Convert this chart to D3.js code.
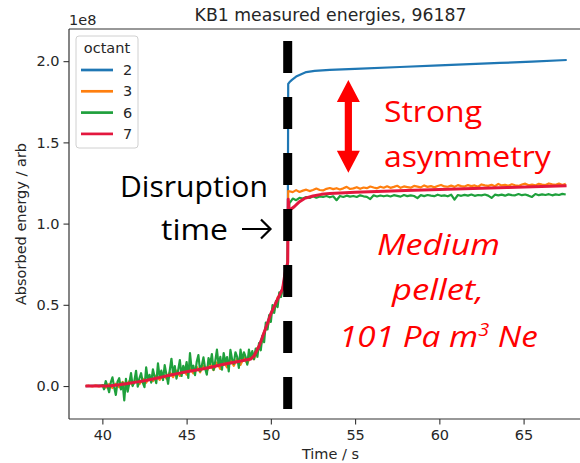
<!DOCTYPE html>
<html><head><meta charset="utf-8">
<script src="https://cdn.jsdelivr.net/npm/d3@7/dist/d3.min.js"></script>
<style>body{margin:0;background:#fff}text{font-family:"DejaVu Sans",sans-serif}</style>
</head><body>
<svg id="c" width="580" height="463"></svg>
<script>
// ---------- data ----------
const chartTitle = "KB1 measured energies, 96187";
const xLabel = "Time / s";
const yLabel = "Absorbed energy / arb";
const xTicks = [40, 45, 50, 55, 60, 65];
const yTicks = [0.0, 0.5, 1.0, 1.5, 2.0];
const octants = ["2", "3", "6", "7"];
const octantColors = ["#1f77b4", "#ff7f0e", "#1fa03c", "#e3173e"];
const disruptionTime = 51.0;

// octant 2 (blue), [time s, energy 1e8]
const oct2 = [[39.0,0.000],[41.0,0.008],[43.0,0.043],[45.0,0.088],[47.0,0.129],[48.8,0.166],[49.3,0.245],[49.6,0.330],[50.0,0.445],[50.4,0.535],[50.7,0.600],[50.85,0.700],[51.0,0.760],
  [51.03,1.860],[51.1,1.870],[51.25,1.885],[51.5,1.905],[51.8,1.920],[52.1,1.933],[52.6,1.940],[53.5,1.946],[55.0,1.952],[57.66,1.964],[60.0,1.974],[63.6,1.989],[65.5,1.997],[67.56,2.007]];

// octant 7 (red)
const oct7 = [[39.0,0.000],[39.5,0.000],[40.0,0.000],[40.5,0.002],[41.0,0.008],[41.5,0.015],[42.0,0.024],[42.5,0.033],[43.0,0.043],[43.5,0.055],[44.0,0.066],[44.5,0.078],[45.0,0.088],[45.5,0.097],[46.0,0.106],[46.5,0.117],[47.0,0.129],[47.5,0.140],[48.0,0.150],[48.5,0.160],[48.8,0.166],[49.0,0.185],[49.3,0.245],[49.6,0.330],[50.0,0.445],[50.4,0.535],[50.7,0.600],[50.85,0.700],[51.0,0.760],
  [51.03,1.150],[51.08,1.090],[51.15,1.085],[51.4,1.105],[51.7,1.135],[52.0,1.155],[52.5,1.170],[53.0,1.180],[53.5,1.186],[55.0,1.193],[58.0,1.204],[61.0,1.213],[64.0,1.222],[67.55,1.233]];

// octant 3 (orange): before disruption sampled every 0.2 s from 39.0
const oct3PreStart = 39.0, oct3PreStep = 0.2;
const oct3Pre = [0.000,0.002,-0.003,0.004,-0.002,0.005,-0.010,0.012,-0.012,0.015,-0.008,0.025,-0.005,0.030,0.005,0.040,0.012,0.045,0.020,0.055,0.030,0.065,0.038,0.075,0.045,0.085,0.055,0.095,0.062,0.105,0.070,0.110,0.078,0.118,0.085,0.125,0.090,0.135,0.098,0.145,0.105,0.150,0.115,0.160,0.125,0.168,0.130,0.175,0.138,0.185,0.165,0.235,0.250,0.335,0.360,0.445,0.465,0.545,0.560,0.650,0.750];
const oct3Jump = [51.03, 1.200];
const oct3PostStart = 51.1, oct3PostStep = 0.2;
const oct3Post = [1.199,1.194,1.206,1.195,1.203,1.209,1.200,1.207,1.216,1.207,
  1.204,1.214,1.219,1.212,1.218,1.210,1.217,1.226,1.213,1.217,
  1.224,1.214,1.222,1.218,1.228,1.222,1.217,1.227,1.221,1.230,
  1.220,1.226,1.233,1.220,1.229,1.225,1.221,1.232,1.228,1.223,
  1.235,1.226,1.231,1.223,1.231,1.238,1.229,1.227,1.234,1.226,
  1.237,1.231,1.228,1.237,1.231,1.235,1.227,1.241,1.235,1.232,
  1.239,1.230,1.244,1.235,1.239,1.233,1.242,1.236,1.232,1.241,
  1.246,1.236,1.240,1.235,1.245,1.240,1.237,1.247,1.242,1.239,
  1.246,1.238,1.245];

// octant 6 (green): before disruption sampled every 0.1 s from 40.0
const oct6PreStart = 40.0, oct6PreStep = 0.1;
const oct6Pre = [0.010,-0.020,0.031,0.001,-0.038,0.022,0.053,-0.006,-0.055,0.026,
  0.048,-0.021,0.021,-0.088,0.044,-0.035,0.017,0.079,0.000,0.032,
  0.094,-0.004,0.048,0.079,0.021,-0.007,0.115,0.037,0.069,0.021,
  0.103,0.055,0.018,0.140,0.053,0.095,0.037,0.129,0.072,0.014,
  0.096,0.168,0.071,0.123,0.046,0.098,0.160,0.062,0.124,0.086,
  0.148,0.050,0.202,0.103,0.125,0.067,0.149,0.191,0.092,0.124,
  0.176,0.108,0.070,0.172,0.135,0.197,0.099,0.152,0.224,0.127,
  0.179,0.101,0.203,0.146,0.178,0.090,0.222,0.164,0.136,0.208,
  0.180,0.112,0.224,0.156,0.208,0.180,0.132,0.224,0.176,0.215,
  0.165,0.230,0.180,0.265,0.220,0.310,0.270,0.390,0.348,0.436,
  0.395,0.498,0.450,0.523,0.485,0.577,0.548,0.600,0.603,0.647,0.760];
const oct6Jump = [51.03, 1.050];
const oct6PostStart = 51.1, oct6PostStep = 0.2;
const oct6Post = [1.125,1.154,1.144,1.159,1.154,1.163,1.158,1.168,1.159,1.167,
  1.164,1.170,1.162,1.168,1.144,1.170,1.164,1.172,1.166,1.170,
  1.164,1.174,1.168,1.165,1.151,1.174,1.167,1.173,1.168,1.173,
  1.167,1.175,1.171,1.166,1.176,1.169,1.174,1.170,1.157,1.175,
  1.169,1.176,1.172,1.169,1.178,1.171,1.174,1.168,1.178,1.148,
  1.176,1.171,1.177,1.172,1.179,1.171,1.176,1.174,1.179,1.172,
  1.158,1.178,1.174,1.178,1.172,1.180,1.175,1.174,1.182,1.175,
  1.179,1.172,1.164,1.182,1.175,1.180,1.176,1.181,1.174,1.180,
  1.176,1.183,1.179];

// ---------- build series ----------
const sampled = (start, step, vals) => vals.map((v, i) => [start + i * step, v]);
const series = [
  oct2,
  sampled(oct3PreStart, oct3PreStep, oct3Pre).concat([oct3Jump], sampled(oct3PostStart, oct3PostStep, oct3Post)),
  sampled(oct6PreStart, oct6PreStep, oct6Pre).concat([oct6Jump], sampled(oct6PostStart, oct6PostStep, oct6Post)),
  oct7
];
const widths = [2.2, 2.2, 2.2, 3.0];

// ---------- layout ----------
const svg = d3.select("#c");
const L = 69, R = 592, T = 29, B = 419;
const x = d3.scaleLinear().domain([38.02, 69.06]).range([L, R]);
const y = d3.scaleLinear().domain([-0.203, 2.198]).range([B, T]);
const axisColor = "#333", textColor = "#262626";

svg.append("clipPath").attr("id", "clipA").append("rect")
  .attr("x", L).attr("y", T).attr("width", R - L).attr("height", B - T);

const line = d3.line().x(d => x(d[0])).y(d => y(d[1]));
const plot = svg.append("g").attr("clip-path", "url(#clipA)");
series.forEach((s, i) => {
  plot.append("path").datum(s).attr("d", line).attr("fill", "none")
    .attr("stroke", octantColors[i]).attr("stroke-width", widths[i])
    .attr("stroke-linejoin", "round").attr("stroke-linecap", "butt");
});

// axes
const xAxis = d3.axisBottom(x).tickValues(xTicks).tickSize(5.5).tickPadding(5).tickFormat(d3.format("d"));
const yAxis = d3.axisLeft(y).tickValues(yTicks).tickSize(5.5).tickPadding(4).tickFormat(d3.format(".1f"));
const gx = svg.append("g").attr("transform", `translate(0,${B})`).call(xAxis);
const gy = svg.append("g").attr("transform", `translate(${L},0)`).call(yAxis);
[gx, gy].forEach(g => {
  g.select(".domain").remove();
  g.selectAll(".tick line").attr("stroke", axisColor).attr("stroke-width", 1.1);
  g.selectAll(".tick text").attr("fill", textColor).style("font-size", "14.5px").style("font-family", "DejaVu Sans");
});
// spines (left, top, bottom; right lies outside the picture)
[[L, T, L, B], [L, T, R, T], [L, B, R, B], [R, T, R, B]].forEach(s =>
  svg.append("line").attr("x1", s[0]).attr("y1", s[1]).attr("x2", s[2]).attr("y2", s[3])
    .attr("stroke", axisColor).attr("stroke-width", 1.2));

// title and labels
svg.append("text").attr("x", (L + R) / 2).attr("y", 21).attr("text-anchor", "middle")
  .attr("fill", textColor).style("font-size", "17.3px").text(chartTitle);
svg.append("text").attr("x", L).attr("y", 25).attr("fill", textColor).style("font-size", "14.5px").text("1e8");
svg.append("text").attr("x", (L + R) / 2).attr("y", 459).attr("text-anchor", "middle")
  .attr("fill", textColor).style("font-size", "14.5px").text(xLabel);
svg.append("text").attr("transform", `translate(26,${(T + B) / 2}) rotate(-90)`).attr("text-anchor", "middle")
  .attr("fill", textColor).style("font-size", "14.5px").text(yLabel);

// legend
const lg = svg.append("g").attr("transform", "translate(76,36)");
lg.append("rect").attr("width", 62).attr("height", 112).attr("rx", 3)
  .attr("fill", "#fff").attr("fill-opacity", 0.8).attr("stroke", "#d0d0d0").attr("stroke-width", 1);
lg.append("text").attr("x", 31).attr("y", 17).attr("text-anchor", "middle").attr("fill", textColor)
  .style("font-size", "14.5px").text("octant");
octants.forEach((o, i) => {
  const yy = 34 + i * 21.3;
  lg.append("line").attr("x1", 5).attr("x2", 37).attr("y1", yy).attr("y2", yy)
    .attr("stroke", octantColors[i]).attr("stroke-width", 2.7);
  lg.append("text").attr("x", 47).attr("y", yy + 5).attr("fill", textColor).style("font-size", "14.5px").text(o);
});

// ---------- annotations ----------
svg.append("line").attr("x1", x(disruptionTime)).attr("x2", x(disruptionTime))
  .attr("y1", 41).attr("y2", 410).attr("stroke", "#000").attr("stroke-width", 9)
  .attr("stroke-dasharray", "32,24");

function fitText(sel, width) {
  const w = sel.node().getBBox().width;
  const tx = +sel.attr("data-x"), ty = +sel.attr("data-y");
  sel.attr("transform", `translate(${tx},${ty}) scale(${width / w},1)`);
}
function annot(str, xx, yy, w, size, color, italic) {
  const t = svg.append("text").attr("data-x", xx).attr("data-y", yy)
    .attr("fill", color).style("font-family", "'Open Sans', sans-serif")
    .style("font-size", size + "px").style("font-style", italic ? "italic" : "normal").text(str);
  fitText(t, w);
  return t;
}
annot("Strong", 384, 122, 98, 30, "#ff0000", false);
annot("asymmetry", 384, 167, 168, 30, "#ff0000", false);
annot("Disruption", 120, 197, 148, 30, "#000", false);
annot("time", 161, 240, 67, 30, "#000", false);
svg.append("path").attr("d", "M242,229 L270,229 M261,219.5 L270.5,229 L261,238.5")
  .attr("fill", "none").attr("stroke", "#000").attr("stroke-width", 2.2);

annot("Medium", 377, 255, 123, 30, "#ff0000", true);
annot("pellet,", 392, 300, 93, 30, "#ff0000", true);
{
  const t = svg.append("text").attr("data-x", 339).attr("data-y", 347).attr("fill", "#ff0000")
    .style("font-family", "'Open Sans', sans-serif").style("font-size", "30px").style("font-style", "italic");
  t.append("tspan").text("101 Pa m");
  t.append("tspan").attr("dy", -11).style("font-size", "18px").text("3");
  t.append("tspan").attr("dy", 11).text(" Ne");
  fitText(t, 199);
}

// red double arrow
{
  const ax = x(54.6), yTop = y(1.884), yBot = y(1.313);
  const hw = 11.5, sw = 3.6, hl = 22;
  const pts = [[ax, yTop], [ax + hw, yTop + hl], [ax + sw, yTop + hl], [ax + sw, yBot - hl], [ax + hw, yBot - hl],
    [ax, yBot], [ax - hw, yBot - hl], [ax - sw, yBot - hl], [ax - sw, yTop + hl], [ax - hw, yTop + hl]];
  svg.append("polygon").attr("points", pts.map(p => p.join(",")).join(" ")).attr("fill", "#ff0000");
}
</script>
</body></html>
